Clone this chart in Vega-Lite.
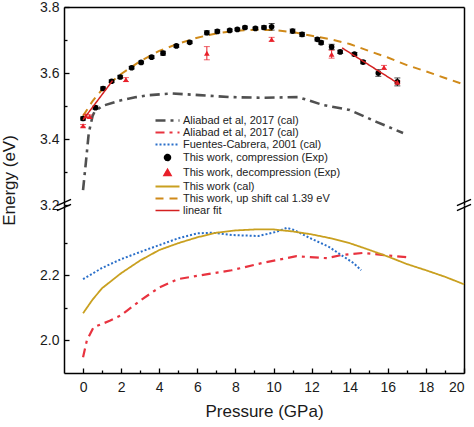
{
  "$schema": "https://vega.github.io/schema/vega-lite/v6.json",
  "padding": {"left": 0, "top": 0, "right": 9, "bottom": 2},
  "spacing": 0,
  "bounds": "flush",
  "config": {
    "view": {"stroke": null},
    "axis": {"grid": false, "domainColor": "#000", "tickColor": "#000", "labelFont": "Liberation Sans", "labelFontSize": 14, "labelColor": "#1a1a1a", "titleFont": "Liberation Sans", "titleFontSize": 17, "titleFontWeight": "normal", "titleColor": "#1a1a1a", "domainWidth": 1.5, "tickWidth": 1.3},
    "legend": {"labelFont": "Liberation Sans", "labelFontSize": 11, "labelColor": "#222", "symbolSize": 64, "rowPadding": 0, "labelOffset": 10, "labelLimit": 300}
  },
  "datasets": {
    "upper_lines": [
      {"s": "Aliabad et al, 2017 (cal)", "g": "a", "P": 0.0, "E": 3.245},
      {"s": "Aliabad et al, 2017 (cal)", "g": "a", "P": 0.15, "E": 3.33},
      {"s": "Aliabad et al, 2017 (cal)", "g": "a", "P": 0.3, "E": 3.418},
      {"s": "Aliabad et al, 2017 (cal)", "g": "a", "P": 0.5, "E": 3.47},
      {"s": "Aliabad et al, 2017 (cal)", "g": "a", "P": 0.6, "E": 3.482},
      {"s": "Aliabad et al, 2017 (cal)", "g": "a", "P": 1.0, "E": 3.5},
      {"s": "Aliabad et al, 2017 (cal)", "g": "a", "P": 1.9, "E": 3.516},
      {"s": "Aliabad et al, 2017 (cal)", "g": "a", "P": 2.8, "E": 3.527},
      {"s": "Aliabad et al, 2017 (cal)", "g": "a", "P": 3.5, "E": 3.533},
      {"s": "Aliabad et al, 2017 (cal)", "g": "a", "P": 4.7, "E": 3.538},
      {"s": "Aliabad et al, 2017 (cal)", "g": "a", "P": 6.1, "E": 3.533},
      {"s": "Aliabad et al, 2017 (cal)", "g": "a", "P": 7.7, "E": 3.527},
      {"s": "Aliabad et al, 2017 (cal)", "g": "a", "P": 9.4, "E": 3.525},
      {"s": "Aliabad et al, 2017 (cal)", "g": "a", "P": 11.3, "E": 3.527},
      {"s": "Aliabad et al, 2017 (cal)", "g": "a", "P": 12.6, "E": 3.503},
      {"s": "Aliabad et al, 2017 (cal)", "g": "a", "P": 14.0, "E": 3.488},
      {"s": "Aliabad et al, 2017 (cal)", "g": "a", "P": 15.4, "E": 3.452},
      {"s": "Aliabad et al, 2017 (cal)", "g": "a", "P": 16.8, "E": 3.418},
      {"s": "This work, up shift cal 1.39 eV", "g": "a", "P": 0, "E": 3.47},
      {"s": "This work, up shift cal 1.39 eV", "g": "a", "P": 0.5, "E": 3.515},
      {"s": "This work, up shift cal 1.39 eV", "g": "a", "P": 1, "E": 3.55},
      {"s": "This work, up shift cal 1.39 eV", "g": "a", "P": 2, "E": 3.597},
      {"s": "This work, up shift cal 1.39 eV", "g": "a", "P": 3, "E": 3.636},
      {"s": "This work, up shift cal 1.39 eV", "g": "a", "P": 4, "E": 3.667},
      {"s": "This work, up shift cal 1.39 eV", "g": "a", "P": 5, "E": 3.689},
      {"s": "This work, up shift cal 1.39 eV", "g": "a", "P": 6, "E": 3.707},
      {"s": "This work, up shift cal 1.39 eV", "g": "a", "P": 7, "E": 3.72},
      {"s": "This work, up shift cal 1.39 eV", "g": "a", "P": 8, "E": 3.728},
      {"s": "This work, up shift cal 1.39 eV", "g": "a", "P": 9, "E": 3.731},
      {"s": "This work, up shift cal 1.39 eV", "g": "a", "P": 10, "E": 3.73},
      {"s": "This work, up shift cal 1.39 eV", "g": "a", "P": 11, "E": 3.724},
      {"s": "This work, up shift cal 1.39 eV", "g": "a", "P": 12, "E": 3.713},
      {"s": "This work, up shift cal 1.39 eV", "g": "a", "P": 13, "E": 3.702},
      {"s": "This work, up shift cal 1.39 eV", "g": "a", "P": 14, "E": 3.688},
      {"s": "This work, up shift cal 1.39 eV", "g": "a", "P": 15, "E": 3.667},
      {"s": "This work, up shift cal 1.39 eV", "g": "a", "P": 16, "E": 3.647},
      {"s": "This work, up shift cal 1.39 eV", "g": "a", "P": 17, "E": 3.624},
      {"s": "This work, up shift cal 1.39 eV", "g": "a", "P": 18, "E": 3.605},
      {"s": "This work, up shift cal 1.39 eV", "g": "a", "P": 19, "E": 3.585},
      {"s": "This work, up shift cal 1.39 eV", "g": "a", "P": 20, "E": 3.565},
      {"s": "linear fit", "g": "a", "P": 0.0, "E": 3.458},
      {"s": "linear fit", "g": "a", "P": 1.55, "E": 3.577},
      {"s": "linear fit", "g": "b", "P": 13.6, "E": 3.676},
      {"s": "linear fit", "g": "b", "P": 16.5, "E": 3.57}
    ],
    "exp": [
      {"s": "This work, compression (Exp)", "P": 0.0, "E": 3.462, "lo": 3.457, "hi": 3.467},
      {"s": "This work, compression (Exp)", "P": 0.65, "E": 3.495, "lo": 3.49, "hi": 3.5},
      {"s": "This work, compression (Exp)", "P": 1.05, "E": 3.553, "lo": 3.548, "hi": 3.558},
      {"s": "This work, compression (Exp)", "P": 1.5, "E": 3.575, "lo": 3.571, "hi": 3.579},
      {"s": "This work, compression (Exp)", "P": 1.95, "E": 3.588, "lo": 3.583, "hi": 3.593},
      {"s": "This work, compression (Exp)", "P": 2.55, "E": 3.616, "lo": 3.612, "hi": 3.62},
      {"s": "This work, compression (Exp)", "P": 3.05, "E": 3.632, "lo": 3.628, "hi": 3.636},
      {"s": "This work, compression (Exp)", "P": 3.6, "E": 3.648, "lo": 3.644, "hi": 3.652},
      {"s": "This work, compression (Exp)", "P": 4.2, "E": 3.66, "lo": 3.654, "hi": 3.666},
      {"s": "This work, compression (Exp)", "P": 4.9, "E": 3.682, "lo": 3.678, "hi": 3.686},
      {"s": "This work, compression (Exp)", "P": 5.6, "E": 3.693, "lo": 3.689, "hi": 3.697},
      {"s": "This work, compression (Exp)", "P": 6.5, "E": 3.722, "lo": 3.716, "hi": 3.728},
      {"s": "This work, compression (Exp)", "P": 7.05, "E": 3.726, "lo": 3.721, "hi": 3.731},
      {"s": "This work, compression (Exp)", "P": 7.7, "E": 3.729, "lo": 3.725, "hi": 3.733},
      {"s": "This work, compression (Exp)", "P": 8.1, "E": 3.732, "lo": 3.728, "hi": 3.736},
      {"s": "This work, compression (Exp)", "P": 8.5, "E": 3.738, "lo": 3.734, "hi": 3.742},
      {"s": "This work, compression (Exp)", "P": 9.05, "E": 3.735, "lo": 3.731, "hi": 3.739},
      {"s": "This work, compression (Exp)", "P": 9.5, "E": 3.738, "lo": 3.733, "hi": 3.743},
      {"s": "This work, compression (Exp)", "P": 9.9, "E": 3.74, "lo": 3.73, "hi": 3.75},
      {"s": "This work, compression (Exp)", "P": 11.0, "E": 3.727, "lo": 3.721, "hi": 3.733},
      {"s": "This work, compression (Exp)", "P": 11.5, "E": 3.717, "lo": 3.711, "hi": 3.723},
      {"s": "This work, compression (Exp)", "P": 12.3, "E": 3.702, "lo": 3.697, "hi": 3.707},
      {"s": "This work, compression (Exp)", "P": 12.5, "E": 3.692, "lo": 3.687, "hi": 3.697},
      {"s": "This work, compression (Exp)", "P": 13.05, "E": 3.679, "lo": 3.671, "hi": 3.687},
      {"s": "This work, compression (Exp)", "P": 13.5, "E": 3.664, "lo": 3.659, "hi": 3.669},
      {"s": "This work, compression (Exp)", "P": 14.25, "E": 3.657, "lo": 3.652, "hi": 3.662},
      {"s": "This work, compression (Exp)", "P": 14.7, "E": 3.633, "lo": 3.628, "hi": 3.638},
      {"s": "This work, compression (Exp)", "P": 15.5, "E": 3.6, "lo": 3.59, "hi": 3.61},
      {"s": "This work, compression (Exp)", "P": 16.5, "E": 3.573, "lo": 3.561, "hi": 3.585},
      {"s": "This work, decompression (Exp)", "P": 0.0, "E": 3.44, "lo": 3.436, "hi": 3.444},
      {"s": "This work, decompression (Exp)", "P": 0.15, "E": 3.47, "lo": 3.465, "hi": 3.475},
      {"s": "This work, decompression (Exp)", "P": 0.35, "E": 3.468, "lo": 3.463, "hi": 3.473},
      {"s": "This work, decompression (Exp)", "P": 2.25, "E": 3.58, "lo": 3.574, "hi": 3.586},
      {"s": "This work, decompression (Exp)", "P": 6.5, "E": 3.66, "lo": 3.64, "hi": 3.68},
      {"s": "This work, decompression (Exp)", "P": 9.9, "E": 3.702, "lo": 3.696, "hi": 3.708},
      {"s": "This work, decompression (Exp)", "P": 13.05, "E": 3.657, "lo": 3.645, "hi": 3.669},
      {"s": "This work, decompression (Exp)", "P": 15.8, "E": 3.617, "lo": 3.611, "hi": 3.623},
      {"s": "This work, decompression (Exp)", "P": 16.5, "E": 3.572, "lo": 3.568, "hi": 3.576}
    ],
    "lower_lines": [
      {"s": "Aliabad et al, 2017 (cal) #2", "P": 0, "E": 1.948},
      {"s": "Aliabad et al, 2017 (cal) #2", "P": 0.2, "E": 2.0},
      {"s": "Aliabad et al, 2017 (cal) #2", "P": 0.55, "E": 2.04},
      {"s": "Aliabad et al, 2017 (cal) #2", "P": 1.4, "E": 2.06},
      {"s": "Aliabad et al, 2017 (cal) #2", "P": 2, "E": 2.077},
      {"s": "Aliabad et al, 2017 (cal) #2", "P": 3, "E": 2.122},
      {"s": "Aliabad et al, 2017 (cal) #2", "P": 4, "E": 2.162},
      {"s": "Aliabad et al, 2017 (cal) #2", "P": 5, "E": 2.188},
      {"s": "Aliabad et al, 2017 (cal) #2", "P": 6, "E": 2.198},
      {"s": "Aliabad et al, 2017 (cal) #2", "P": 7.8, "E": 2.215},
      {"s": "Aliabad et al, 2017 (cal) #2", "P": 9.4, "E": 2.237},
      {"s": "Aliabad et al, 2017 (cal) #2", "P": 11.2, "E": 2.258},
      {"s": "Aliabad et al, 2017 (cal) #2", "P": 12.8, "E": 2.252},
      {"s": "Aliabad et al, 2017 (cal) #2", "P": 13.6, "E": 2.262},
      {"s": "Aliabad et al, 2017 (cal) #2", "P": 14.7, "E": 2.268},
      {"s": "Aliabad et al, 2017 (cal) #2", "P": 15.7, "E": 2.262},
      {"s": "Aliabad et al, 2017 (cal) #2", "P": 17.0, "E": 2.255},
      {"s": "Fuentes-Cabrera, 2001 (cal)", "P": 0, "E": 2.188},
      {"s": "Fuentes-Cabrera, 2001 (cal)", "P": 1, "E": 2.222},
      {"s": "Fuentes-Cabrera, 2001 (cal)", "P": 2, "E": 2.249},
      {"s": "Fuentes-Cabrera, 2001 (cal)", "P": 3, "E": 2.271},
      {"s": "Fuentes-Cabrera, 2001 (cal)", "P": 4, "E": 2.292},
      {"s": "Fuentes-Cabrera, 2001 (cal)", "P": 5, "E": 2.313},
      {"s": "Fuentes-Cabrera, 2001 (cal)", "P": 6, "E": 2.328},
      {"s": "Fuentes-Cabrera, 2001 (cal)", "P": 6.8, "E": 2.33},
      {"s": "Fuentes-Cabrera, 2001 (cal)", "P": 7.8, "E": 2.323},
      {"s": "Fuentes-Cabrera, 2001 (cal)", "P": 9.2, "E": 2.32},
      {"s": "Fuentes-Cabrera, 2001 (cal)", "P": 10.1, "E": 2.332},
      {"s": "Fuentes-Cabrera, 2001 (cal)", "P": 10.7, "E": 2.345},
      {"s": "Fuentes-Cabrera, 2001 (cal)", "P": 11.1, "E": 2.338},
      {"s": "Fuentes-Cabrera, 2001 (cal)", "P": 11.9, "E": 2.314},
      {"s": "Fuentes-Cabrera, 2001 (cal)", "P": 12.9, "E": 2.287},
      {"s": "Fuentes-Cabrera, 2001 (cal)", "P": 13.7, "E": 2.256},
      {"s": "Fuentes-Cabrera, 2001 (cal)", "P": 14.2, "E": 2.237},
      {"s": "Fuentes-Cabrera, 2001 (cal)", "P": 14.6, "E": 2.215},
      {"s": "This work (cal)", "P": 0, "E": 2.083},
      {"s": "This work (cal)", "P": 0.5, "E": 2.125},
      {"s": "This work (cal)", "P": 1, "E": 2.16},
      {"s": "This work (cal)", "P": 2, "E": 2.206},
      {"s": "This work (cal)", "P": 3, "E": 2.245},
      {"s": "This work (cal)", "P": 4, "E": 2.277},
      {"s": "This work (cal)", "P": 5, "E": 2.298},
      {"s": "This work (cal)", "P": 6, "E": 2.316},
      {"s": "This work (cal)", "P": 7, "E": 2.33},
      {"s": "This work (cal)", "P": 8, "E": 2.337},
      {"s": "This work (cal)", "P": 9, "E": 2.34},
      {"s": "This work (cal)", "P": 10, "E": 2.34},
      {"s": "This work (cal)", "P": 11, "E": 2.334},
      {"s": "This work (cal)", "P": 12, "E": 2.325},
      {"s": "This work (cal)", "P": 13, "E": 2.313},
      {"s": "This work (cal)", "P": 14, "E": 2.298},
      {"s": "This work (cal)", "P": 15, "E": 2.278},
      {"s": "This work (cal)", "P": 16, "E": 2.257},
      {"s": "This work (cal)", "P": 17, "E": 2.234},
      {"s": "This work (cal)", "P": 18, "E": 2.215},
      {"s": "This work (cal)", "P": 19, "E": 2.195},
      {"s": "This work (cal)", "P": 20, "E": 2.172}
    ],
    "breaks": [
      {"P": -1, "E": 3.2},
      {"P": 20, "E": 3.2}
    ]
  },
  "vconcat": [
    {
      "width": 400,
      "height": 198,
      "resolve": {"axis": {"x": "independent", "y": "independent"}},
      "layer": [
        {
          "data": {"name": "upper_lines"},
          "transform": [{"filter": "datum.s === 'Aliabad et al, 2017 (cal)'"}],
          "mark": {"type": "line", "strokeWidth": 2.6},
          "encoding": {
            "x": {"field": "P", "type": "quantitative", "scale": {"domain": [-1, 20], "nice": false, "zero": false}, "axis": {"orient": "top", "labels": false, "ticks": false, "title": null}},
            "y": {"field": "E", "type": "quantitative", "scale": {"domain": [3.2, 3.8], "nice": false, "zero": false}, "axis": {"orient": "left", "values": [3.2, 3.4, 3.6, 3.8], "format": ".1f", "tickSize": -5, "labelPadding": 10, "title": "Energy (eV)", "titlePadding": 21, "titleY": 173}},
            "color": {"field": "s", "type": "nominal", "scale": {"domain": ["Aliabad et al, 2017 (cal)", "Aliabad et al, 2017 (cal) #2", "Fuentes-Cabrera, 2001 (cal)", "This work, compression (Exp)", "This work, decompression (Exp)", "This work (cal)", "This work, up shift cal 1.39 eV", "linear fit"], "range": ["#505050", "#e8333f", "#2a6fc9", "#000000", "#e8202a", "#c9a020", "#d08a1a", "#d42020"]},
              "legend": {"title": null, "orient": "none", "legendX": 98, "legendY": 108, "labelExpr": "replace(datum.label, ' #2', '')",
                "symbolType": "M-3,0H3",
                "encode": {"symbols": {"update": {
                  "size": {"signal": "datum.value === 'This work, compression (Exp)' ? 30 : datum.value === 'This work, decompression (Exp)' ? 40 : 64"},
                  "fill": {"signal": "scale('color', datum.value)"},
                  "stroke": {"signal": "scale('color', datum.value)"},
                  "strokeWidth": {"signal": "datum.value === 'Aliabad et al, 2017 (cal)' ? 2.6 : datum.value === 'linear fit' ? 1.5 : 2"}
                }}}}},
            "strokeDash": {"field": "s", "type": "nominal", "scale": {"domain": ["Aliabad et al, 2017 (cal)", "Aliabad et al, 2017 (cal) #2", "Fuentes-Cabrera, 2001 (cal)", "This work, compression (Exp)", "This work, decompression (Exp)", "This work (cal)", "This work, up shift cal 1.39 eV", "linear fit"], "range": [[10, 5, 3, 5], [9, 5, 3, 5], [2, 2], [1, 0], [1, 0], [1, 0], [8, 6], [1, 0]]}}
          }
        },
        {
          "data": {"name": "upper_lines"},
          "transform": [{"filter": "datum.s === 'This work, up shift cal 1.39 eV'"}],
          "mark": {"type": "line", "strokeWidth": 2},
          "encoding": {
            "x": {"field": "P", "type": "quantitative", "axis": null},
            "y": {"field": "E", "type": "quantitative", "axis": null},
            "color": {"field": "s", "type": "nominal"},
            "strokeDash": {"field": "s", "type": "nominal"}
          }
        },
        {
          "data": {"name": "exp"},
          "mark": {"type": "errorbar", "ticks": {"size": 6}, "thickness": 1},
          "encoding": {
            "x": {"field": "P", "type": "quantitative", "axis": null},
            "y": {"field": "lo", "type": "quantitative", "axis": null},
            "y2": {"field": "hi"},
            "color": {"field": "s", "type": "nominal"}
          }
        },
        {
          "data": {"name": "exp"},
          "mark": {"type": "point", "filled": true, "size": 32, "opacity": 1},
          "encoding": {
            "x": {"field": "P", "type": "quantitative", "axis": null},
            "y": {"field": "E", "type": "quantitative", "axis": {"orient": "left", "values": [3.3, 3.5, 3.7], "labels": false, "domain": false, "tickSize": -3, "title": null}},
            "color": {"field": "s", "type": "nominal"},
            "shape": {"field": "s", "type": "nominal", "scale": {"domain": ["Aliabad et al, 2017 (cal)", "Aliabad et al, 2017 (cal) #2", "Fuentes-Cabrera, 2001 (cal)", "This work, compression (Exp)", "This work, decompression (Exp)", "This work (cal)", "This work, up shift cal 1.39 eV", "linear fit"], "range": ["M-3,0H3", "M-3,0H3", "M-3,0H3", "circle", "triangle-up", "M-3,0H3", "M-3,0H3", "M-3,0H3"]}}
          }
        },
        {
          "data": {"name": "upper_lines"},
          "transform": [{"filter": "datum.s === 'linear fit'"}],
          "mark": {"type": "line", "strokeWidth": 1.5},
          "encoding": {
            "x": {"field": "P", "type": "quantitative", "axis": null},
            "y": {"field": "E", "type": "quantitative", "axis": {"orient": "right", "labels": false, "ticks": false, "title": null}},
            "color": {"field": "s", "type": "nominal"},
            "strokeDash": {"field": "s", "type": "nominal"},
            "detail": {"field": "g", "type": "nominal"}
          }
        },
        {
          "data": {"name": "breaks"},
          "mark": {"type": "point", "shape": "M-1,0.1L1,-0.8M-1,0.8L1,-0.1", "size": 200, "filled": false, "stroke": "#000", "strokeWidth": 1.4, "opacity": 1},
          "encoding": {
            "x": {"field": "P", "type": "quantitative", "axis": null},
            "y": {"field": "E", "type": "quantitative", "axis": null}
          }
        }
      ]
    },
    {
      "width": 400,
      "height": 168,
      "resolve": {"axis": {"x": "independent", "y": "independent"}},
      "layer": [
        {
          "data": {"name": "lower_lines"},
          "transform": [{"filter": "datum.s === 'Aliabad et al, 2017 (cal) #2'"}],
          "mark": {"type": "line", "strokeWidth": 2.2},
          "encoding": {
            "x": {"field": "P", "type": "quantitative", "scale": {"domain": [-1, 20], "nice": false, "zero": false}, "axis": {"orient": "bottom", "values": [0, 2, 4, 6, 8, 10, 12, 14, 16, 18, 20], "format": "d", "tickSize": -5, "labelPadding": 12, "title": "Pressure (GPa)", "titlePadding": 9}},
            "y": {"field": "E", "type": "quantitative", "scale": {"domain": [1.9, 2.415], "nice": false, "zero": false}, "axis": {"orient": "left", "values": [2.0, 2.2], "format": ".1f", "tickSize": -5, "labelPadding": 10, "title": null}},
            "color": {"field": "s", "type": "nominal"},
            "strokeDash": {"field": "s", "type": "nominal"}
          }
        },
        {
          "data": {"name": "lower_lines"},
          "transform": [{"filter": "datum.s === 'Fuentes-Cabrera, 2001 (cal)'"}],
          "mark": {"type": "line", "strokeWidth": 2},
          "encoding": {
            "x": {"field": "P", "type": "quantitative", "axis": {"orient": "bottom", "values": [1, 3, 5, 7, 9, 11, 13, 15, 17, 19], "labels": false, "domain": false, "tickSize": -3, "title": null}},
            "y": {"field": "E", "type": "quantitative", "axis": {"orient": "left", "values": [2.1, 2.3], "labels": false, "domain": false, "tickSize": -3, "title": null}},
            "color": {"field": "s", "type": "nominal"},
            "strokeDash": {"field": "s", "type": "nominal"}
          }
        },
        {
          "data": {"name": "lower_lines"},
          "transform": [{"filter": "datum.s === 'This work (cal)'"}],
          "mark": {"type": "line", "strokeWidth": 1.8},
          "encoding": {
            "x": {"field": "P", "type": "quantitative", "axis": null},
            "y": {"field": "E", "type": "quantitative", "axis": {"orient": "right", "labels": false, "ticks": false, "title": null}},
            "color": {"field": "s", "type": "nominal"},
            "strokeDash": {"field": "s", "type": "nominal"}
          }
        }
      ]
    }
  ]
}
